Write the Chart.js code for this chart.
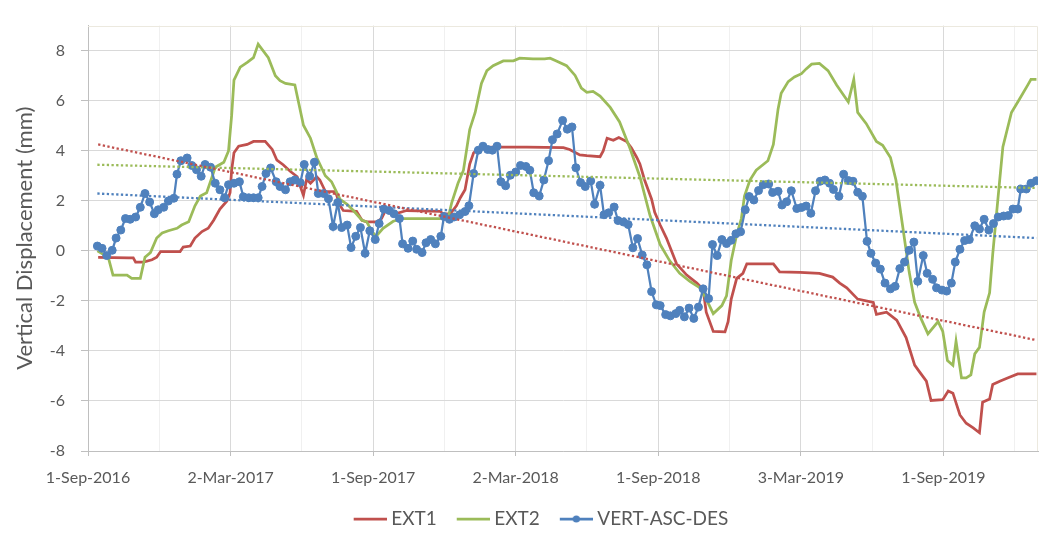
<!DOCTYPE html>
<html><head><meta charset="utf-8">
<script src="https://cdn.jsdelivr.net/npm/chart.js@4.4.0/dist/chart.umd.min.js"></script>
<style>html,body{margin:0;padding:0;background:#fff}</style>
</head><body>
<canvas id="c" width="1049" height="534"></canvas>
<script>
// x values are days since 1-Sep-2016
const seriesNames = ['EXT1', 'EXT2', 'VERT-ASC-DES'];

const ext1Days = [13,52,58,61,71,82,88,93,118,122,131,137,146,154,161,169,178,182,184,187,193,204,212,227,236,242,250,259,268,272,276,280,285,293,297,304,317,323,327,344,351,357,370,376,381,396,408,451,455,464,472,477,483,489,494,502,519,562,609,617,630,639,656,660,665,673,680,690,696,703,707,713,722,726,733,741,754,767,780,788,792,801,816,820,824,831,839,844,878,886,912,937,954,963,972,986,1006,1010,1023,1036,1048,1059,1065,1074,1080,1095,1102,1108,1117,1125,1134,1142,1146,1155,1159,1168,1178,1191,1215];
const ext1Vals = [-0.26,-0.28,-0.28,-0.45,-0.45,-0.36,-0.26,-0.03,-0.03,0.15,0.19,0.51,0.77,0.90,1.22,1.67,1.99,2.32,3.22,3.92,4.18,4.25,4.37,4.37,4.05,3.62,3.44,3.18,2.96,2.57,2.22,2.86,2.70,2.96,2.83,2.38,2.37,1.80,1.61,1.58,1.22,1.16,1.16,1.29,1.61,1.50,1.61,1.58,1.48,1.48,1.80,2.12,2.44,3.47,3.92,4.12,4.14,4.14,4.12,4.05,3.83,3.80,3.76,3.99,4.50,4.42,4.53,4.37,4.12,3.73,3.47,2.83,2.06,1.54,1.03,0.51,-0.52,-0.97,-1.29,-1.54,-2.45,-3.22,-3.24,-2.83,-1.93,-1.10,-0.90,-0.52,-0.52,-0.84,-0.86,-0.90,-1.05,-1.29,-1.48,-1.93,-2.06,-2.54,-2.45,-2.77,-3.47,-4.57,-4.83,-5.21,-5.98,-5.95,-5.60,-5.69,-6.56,-6.89,-7.08,-7.27,-6.05,-5.92,-5.34,-5.21,-5.08,-4.92,-4.92];

const ext2Days = [12,26,32,50,56,67,73,80,88,95,103,114,120,129,137,144,152,159,163,174,180,184,187,195,204,212,218,231,240,246,253,265,276,285,293,304,312,323,332,340,351,357,364,369,378,391,404,451,462,466,474,481,489,496,504,511,519,532,545,553,570,585,592,600,613,624,632,639,647,656,669,681,694,707,720,733,745,758,771,784,792,801,812,818,824,831,837,841,848,856,871,878,884,888,897,905,914,920,927,937,948,959,974,981,986,997,1010,1018,1028,1035,1044,1052,1059,1067,1076,1089,1095,1101,1108,1112,1119,1125,1131,1136,1142,1148,1155,1159,1166,1172,1183,1193,1204,1208,1215];
const ext2Vals = [0,-0.26,-0.97,-0.97,-1.10,-1.10,-0.26,-0.07,0.51,0.71,0.80,0.90,1.03,1.16,1.80,2.19,2.32,2.96,3.34,3.54,3.99,5.40,6.82,7.34,7.53,7.72,8.26,7.72,7.00,6.80,6.69,6.63,5.02,4.50,3.73,3.00,2.76,2.06,1.86,1.61,1.22,1.16,0.77,0.58,0.90,1.18,1.29,1.29,1.41,1.93,2.70,3.22,4.85,5.53,6.69,7.20,7.40,7.59,7.59,7.70,7.67,7.67,7.70,7.59,7.40,7.01,6.50,6.33,6.37,6.18,5.73,5.15,4.12,2.96,1.41,0.25,-0.39,-0.90,-1.22,-1.48,-1.93,-2.51,-2.19,-1.80,-0.39,0.64,1.29,2.19,2.83,3.22,3.60,4.25,5.66,6.30,6.76,6.95,7.08,7.27,7.46,7.49,7.20,6.63,5.95,6.85,5.53,5.08,4.37,4.22,3.73,2.83,0.90,-0.85,-2.06,-2.70,-3.32,-2.83,-3.22,-4.38,-4.57,-3.61,-5.08,-5.08,-4.96,-4.12,-3.86,-2.45,-1.68,-0.13,2.19,4.15,5.53,6.05,6.63,6.85,6.85];

const vertDays = [12,18,24,31,36,42,48,54,61,67,73,79,85,90,97,103,110,114,119,127,133,139,145,150,157,163,169,175,180,187,194,199,206,212,218,223,228,234,241,246,253,259,265,272,277,284,290,295,302,308,314,320,325,332,337,343,349,355,361,368,373,379,386,392,399,403,410,416,421,428,433,439,445,452,456,463,469,476,483,488,494,500,506,512,518,524,529,535,541,548,554,561,566,571,578,584,590,595,601,608,614,620,625,631,637,644,649,656,661,667,674,679,686,692,698,704,710,716,722,728,733,740,746,753,758,764,770,776,782,788,795,800,806,812,818,824,830,836,842,847,853,859,865,872,877,884,889,895,901,908,914,920,926,932,938,944,950,955,962,968,974,980,986,992,998,1003,1009,1015,1021,1028,1034,1040,1046,1052,1058,1063,1070,1075,1082,1087,1094,1100,1106,1111,1117,1123,1129,1136,1142,1148,1154,1160,1166,1173,1179,1185,1191,1195,1202,1208,1215];
const vertVals = [0.19,0.10,-0.19,0.02,0.51,0.83,1.29,1.26,1.35,1.74,2.29,1.95,1.48,1.64,1.74,1.99,2.10,3.06,3.60,3.71,3.41,3.24,2.98,3.45,3.34,2.70,2.44,2.12,2.64,2.70,2.76,2.16,2.12,2.12,2.12,2.57,3.09,3.31,2.76,2.57,2.44,2.76,2.83,2.72,3.45,2.98,3.54,2.29,2.29,2.08,0.97,1.93,0.93,1.03,0.13,0.58,0.93,-0.10,0.80,0.45,1.09,1.67,1.61,1.48,1.29,0.28,0.10,0.39,0.06,-0.07,0.32,0.45,0.28,0.58,1.37,1.26,1.35,1.44,1.57,1.80,3.09,4.02,4.18,4.05,4.02,4.18,2.76,2.60,3.02,3.15,3.41,3.37,3.22,2.32,2.19,2.83,3.60,4.44,4.67,5.21,4.86,4.95,3.32,2.73,2.57,2.79,1.86,2.62,1.44,1.52,1.75,1.21,1.15,1.05,0.12,0.49,-0.17,-0.56,-1.63,-2.16,-2.19,-2.55,-2.60,-2.51,-2.38,-2.64,-2.29,-2.70,-2.25,-1.52,-1.91,0.25,-0.19,0.45,0.29,0.42,0.68,0.76,1.64,2.17,2.03,2.41,2.64,2.67,2.33,2.38,1.83,1.96,2.40,1.69,1.73,1.79,1.50,2.40,2.78,2.83,2.70,2.45,2.18,3.06,2.81,2.78,2.34,2.18,0.38,-0.10,-0.49,-0.73,-1.29,-1.52,-1.42,-0.71,-0.45,0.02,0.35,-1.22,-0.19,-0.90,-1.14,-1.48,-1.57,-1.61,-1.29,-0.45,0.06,0.41,0.45,1.00,0.87,1.26,0.83,1.09,1.35,1.39,1.41,1.67,1.67,2.47,2.47,2.70,2.80];

// linear trendlines (end points)
const ext1TrendDays = [13, 1215];
const ext1TrendVals = [4.25, -3.57];
const ext2TrendDays = [12, 1215];
const ext2TrendVals = [3.44, 2.51];
const vertTrendDays = [12, 1215];
const vertTrendVals = [2.29, 0.51];

const xTickLabels = ['1-Sep-2016','2-Mar-2017','1-Sep-2017','2-Mar-2018','1-Sep-2018','3-Mar-2019','1-Sep-2019'];
const xMajorStep = 182.63;
const xMax = 1217;
const yTicks = [-8,-6,-4,-2,0,2,4,6,8];

const RED = '#C0504D', GREEN = '#9BBB59', BLUE = '#4F81BD', TXT = '#595959';

function pts(d, v) { return d.map((x, i) => ({x: x, y: v[i]})); }

// legend symbol: blank left part, 33px line on the right
function legendImg(color, marker) {
  const c = document.createElement('canvas');
  c.width = 54; c.height = 10;
  const g = c.getContext('2d');
  g.strokeStyle = color; g.lineWidth = 2.75;
  g.beginPath(); g.moveTo(21, 5); g.lineTo(54, 5); g.stroke();
  if (marker) { g.fillStyle = color; g.beginPath(); g.arc(37.5, 5, 3.6, 0, Math.PI * 2); g.fill(); }
  return c;
}
const legendImgs = [legendImg(RED, false), legendImg(GREEN, false), legendImg(BLUE, true)];

const lineDs = (label, data, color, order) => ({
  label, data, borderColor: color, backgroundColor: color, borderWidth: 2.75,
  pointRadius: 0, tension: 0, fill: false, order
});
const trendDs = (data, color) => ({
  label: 'trend', data, borderColor: color, borderWidth: 2.3, borderDash: [2.3, 2.4],
  pointRadius: 0, tension: 0, fill: false, order: -1
});

const framePlugin = {
  id: 'frame',
  afterLayout(chart) {
    const L = chart.legend;
    if (L) {
      const dx = 14;
      L.left += dx; L.right += dx;
      const h = L.height;
      L.top = 519 - 4 - 9.5; L.bottom = L.top + h;
    }
  },
  beforeDatasetsDraw(chart) {
    const {ctx, chartArea: a} = chart;
    ctx.save();
    ctx.strokeStyle = '#ECE9DF'; ctx.lineWidth = 1;
    ctx.beginPath();
    ctx.moveTo(a.left, Math.round(a.top) + 0.5);
    ctx.lineTo(Math.round(a.right) - 0.5, Math.round(a.top) + 0.5);
    ctx.lineTo(Math.round(a.right) - 0.5, a.bottom);
    ctx.stroke();
    ctx.restore();
  }
};

new Chart(document.getElementById('c'), {
  type: 'line',
  data: {
    datasets: [
      lineDs(seriesNames[0], pts(ext1Days, ext1Vals), RED, 3),
      lineDs(seriesNames[1], pts(ext2Days, ext2Vals), GREEN, 2),
      Object.assign(lineDs(seriesNames[2], pts(vertDays, vertVals), BLUE, 1), {
        borderWidth: 2.25, pointRadius: 4, pointBorderWidth: 1, pointBackgroundColor: BLUE, pointBorderColor: BLUE
      }),
      trendDs(pts(ext1TrendDays, ext1TrendVals), RED),
      trendDs(pts(ext2TrendDays, ext2TrendVals), GREEN),
      trendDs(pts(vertTrendDays, vertTrendVals), BLUE)
    ]
  },
  options: {
    responsive: false,
    animation: false,
    devicePixelRatio: 1,
    layout: { padding: { top: 11, right: 11, left: 0, bottom: 0 } },
    plugins: {
      tooltip: { enabled: false },
      legend: {
        position: 'bottom',
        labels: {
          usePointStyle: true, pointStyleWidth: 44, padding: 4,
          font: { family: 'Lato', size: 19 }, color: TXT,
          generateLabels: () => seriesNames.map((name, i) => ({
            text: name, pointStyle: legendImgs[i], datasetIndex: i, hidden: false,
            lineWidth: 0, strokeStyle: 'rgba(0,0,0,0)', fillStyle: 'rgba(0,0,0,0)', fontColor: TXT
          }))
        }
      }
    },
    scales: {
      x: {
        type: 'linear', min: 0, max: xMax,
        afterBuildTicks: s => {
          const t = [];
          for (let i = 0; i * xMajorStep / 2 <= xMax; i++) t.push({ value: i * xMajorStep / 2 });
          s.ticks = t;
        },
        afterFit: s => { s.height = 534 - 451 - (s.chart.legend ? s.chart.legend.height : 0); },
        ticks: {
          autoSkip: false, maxRotation: 0, minRotation: 0, padding: 12,
          font: { family: 'Lato', size: 16 }, color: TXT,
          callback: (v, i) => (i % 2 === 0 && xTickLabels[i / 2]) ? xTickLabels[i / 2] : ''
        },
        grid: {
          color: c => (c.index % 2 === 0 ? '#D9D9D9' : '#F0F0F0'),
          tickColor: c => (c.index % 2 === 0 ? '#BFBFBF' : 'rgba(0,0,0,0)'),
          tickLength: 5, lineWidth: 1
        },
        border: { color: '#BFBFBF', width: 1 }
      },
      y: {
        min: -8, max: 9,
        afterBuildTicks: s => { s.ticks = yTicks.map(v => ({ value: v })); },
        afterFit: s => { s.width = 88; },
        ticks: { padding: 16, font: { family: 'Lato', size: 16 }, color: TXT },
        grid: { color: '#D9D9D9', tickColor: '#BFBFBF', tickLength: 7, lineWidth: 1 },
        border: { color: '#BFBFBF', width: 1 },
        title: {
          display: true, text: 'Vertical Displacement (mm)', color: TXT,
          font: { family: 'Lato', size: 22 }, padding: { top: 12, bottom: 0 }
        }
      }
    }
  },
  plugins: [framePlugin]
});
</script>
</body></html>
